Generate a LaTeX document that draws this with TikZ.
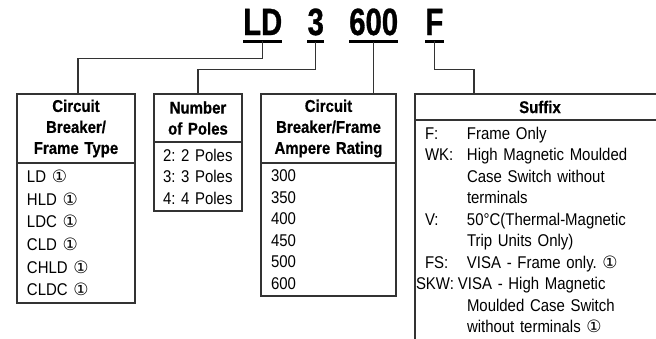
\documentclass[tikz,border=0pt]{standalone}
\usepackage{fontspec}
\setmainfont{Liberation Sans}[FakeStretch=0.88,BoldFeatures={FakeBold=0.6}]
\newfontfamily\titlefont{Liberation Sans}[FakeStretch=0.77,BoldFeatures={FakeBold=0.8}]
\newfontfamily\symfont{DejaVu Sans}
\usetikzlibrary{positioning}
\definecolor{linecol}{HTML}{333333}
\newcommand{\one}{{\symfont\fontsize{17}{17}\selectfont ①}}
\newcommand{\sfxlab}[1]{\makebox[42pt][l]{#1}}
\tikzset{
  ttl/.style={font=\titlefont\bfseries\fontsize{38}{38}\selectfont,inner sep=0pt,anchor=base west},
  bar/.style={line width=2.6pt,draw=black},
  conn/.style={draw=linecol,line width=1.1pt},
  hdbox/.style={draw=linecol,line width=1.1pt,outer sep=0pt,inner xsep=6pt,inner ysep=0pt,align=center,font=\bfseries\fontsize{17}{21}\selectfont},
  bdbox/.style={draw=linecol,line width=1.1pt,outer sep=0pt,inner xsep=10pt,inner ysep=0pt,align=left,font=\frenchspacing\fontsize{17}{21.5}\selectfont}
}
\begin{document}
\begin{tikzpicture}[x=1pt,y=-1pt]
  \useasboundingbox (0,0) rectangle (656,338);
  \clip (0,0) rectangle (656,338);

  % catalogue number
  \node[ttl] (ld) at (243,35) {LD};
  \node[ttl, right=25pt of ld.base east, anchor=base west] (po) {3};
  \node[ttl, right=25pt of po.base east, anchor=base west] (ra) {600};
  \node[ttl, right=27pt of ra.base east, anchor=base west] (sf) {F};
  \foreach \n in {ld,po,ra,sf}{
    \draw[bar] ([yshift=-6pt]\n.south west) -- ([yshift=-6pt]\n.south east);
    \coordinate (\n bar) at ([yshift=-6pt]\n.south);
  }

  % headers
  \node[hdbox, text width=106pt, minimum height=69pt, anchor=north west] (lthead) at (17,94) {Circuit\\Breaker/\\Frame Type};
  \node[hdbox, text width=76pt, minimum height=48pt, right=19pt of lthead.north east, anchor=north west] (pohead) {Number\\of Poles};
  \node[hdbox, text width=123pt, minimum height=69pt, right=19pt of pohead.north east, anchor=north west] (rahead) {Circuit\\Breaker/Frame\\Ampere Rating};
  \node[hdbox, text width=238pt, minimum height=26pt, right=19pt of rahead.north east, anchor=north west] (sfhead) {Suffix};

  % bodies
  \node[bdbox, text width=98pt, minimum height=140pt, font=\fontsize{17}{22.6}\selectfont, below=0pt of lthead] (ltbody) {LD \one\\HLD \one\\LDC \one\\CLD \one\\CHLD \one\\CLDC \one};
  \node[bdbox, inner xsep=9pt, text width=70pt, minimum height=69pt, below=0pt of pohead] (pobody) {2: 2 Poles\\3: 3 Poles\\4: 4 Poles};
  \node[bdbox, text width=115pt, minimum height=133pt, below=0pt of rahead] (rabody) {300\\350\\400\\450\\500\\600};
  \node[bdbox, text width=230pt, inner ysep=7pt, below=0pt of sfhead] (sfbody) {%
    \sfxlab{F:}Frame Only\\
    \sfxlab{WK:}High Magnetic Moulded\\
    \sfxlab{}Case Switch without\\
    \sfxlab{}terminals\\
    \sfxlab{V:}50°C(Thermal-Magnetic\\
    \sfxlab{}Trip Units Only)\\
    \sfxlab{FS:}VISA - Frame only. \one\\
    \makebox[33pt][l]{\hspace*{-9pt}SKW:}VISA - High Magnetic\\
    \sfxlab{}Moulded Case Switch\\
    \sfxlab{}without terminals \one};

  % connectors
  \draw[conn] (ldbar) -- ++(0,17) -| ([xshift=2pt]lthead.north);
  \draw[conn] (pobar) -- ++(0,28) -| (pohead.north);
  \draw[conn] (rabar) -- (rabar |- rahead.north);
  \draw[conn] (sfbar) -- ++(0,28) -| ([xshift=59pt]sfhead.north west);
\end{tikzpicture}
\end{document}
